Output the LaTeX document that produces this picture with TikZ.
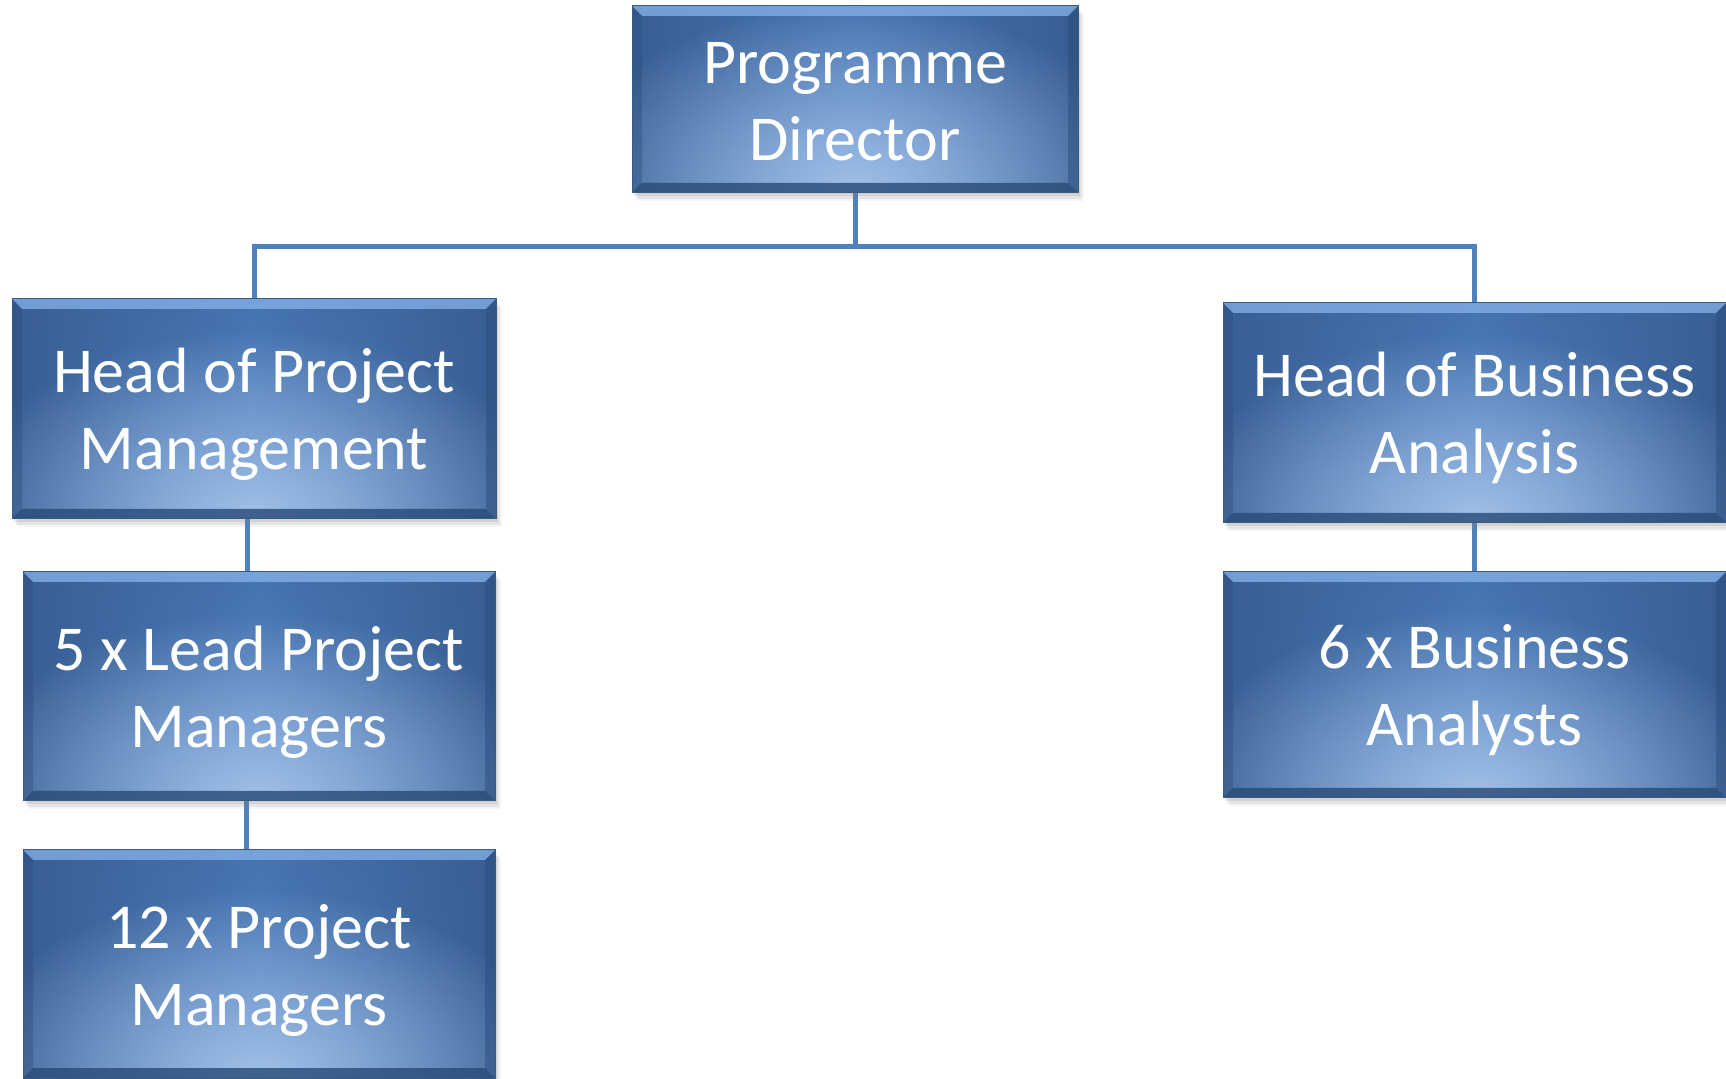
\documentclass[tikz,border=0pt]{standalone}
\usepackage{fontspec}
\setmainfont{Carlito}
\usetikzlibrary{shadows,fadings}
\definecolor{bdark}{HTML}{395F94}
\definecolor{bmid}{HTML}{4F82C2}
\definecolor{glowc}{HTML}{A2C0E8}
\definecolor{bevlight}{HTML}{86B3EA}
\definecolor{bevdark}{HTML}{284A78}
\definecolor{edgec}{HTML}{3A5A80}
\definecolor{connc}{HTML}{4F81BD}
\newcommand\twolines[2]{\rule{0pt}{28.5pt}#1\\#2\rule[-6pt]{0pt}{6pt}}
\tikzfading[name=glowfade, inner color=transparent!0, outer color=transparent!100]
\pgfdeclarelayer{bg}
\pgfsetlayers{bg,main}
\tikzset{
  box/.style={rectangle, inner sep=0pt, draw=edgec, line width=0.5pt, fill=bmid,
    text=white, align=center, font=\fontsize{32}{38.5}\selectfont,
    drop shadow={shadow xshift=1.2pt, shadow yshift=-1.6pt, opacity=0.18},
    drop shadow={shadow xshift=2.2pt, shadow yshift=-2.8pt, opacity=0.14},
    drop shadow={shadow xshift=3.2pt, shadow yshift=-4pt, opacity=0.08},
    path picture={
      \coordinate (sw) at (path picture bounding box.south west);
      \coordinate (ne) at (path picture bounding box.north east);
      \coordinate (nw) at (path picture bounding box.north west);
      \coordinate (se) at (path picture bounding box.south east);
      \shade[left color=bdark, right color=bdark, middle color=bmid] (sw) rectangle (ne);
      \fill[bdark, path fading=south, fill opacity=0.4] (sw) rectangle (ne);
      \fill[glowc, path fading=glowfade] (path picture bounding box.south) ellipse [x radius=150pt, y radius=95pt];
      \fill[bevlight, fill opacity=0.75] (nw) -- (ne) -- ([xshift=-5pt,yshift=-5pt]ne) -- ([xshift=5pt,yshift=-5pt]nw) -- cycle;
      \fill[bevdark, fill opacity=0.8] (sw) -- (se) -- ([xshift=-5pt,yshift=5pt]se) -- ([xshift=5pt,yshift=5pt]sw) -- cycle;
      \fill[bevdark, fill opacity=0.35] (sw) -- (nw) -- ([xshift=5pt,yshift=-5pt]nw) -- ([xshift=5pt,yshift=5pt]sw) -- cycle;
      \fill[bevdark, fill opacity=0.45] (se) -- (ne) -- ([xshift=-5pt,yshift=-5pt]ne) -- ([xshift=-5pt,yshift=5pt]se) -- cycle;
    }},
  conn/.style={line width=2.5pt, draw=connc}
}
\begin{document}
\begin{tikzpicture}[x=0.5pt,y=-0.5pt]
\useasboundingbox (0,0) rectangle (1726,1079);
\begin{pgfonlayer}{bg}
\fill[white] (0,0) rectangle (1726,1079);
\end{pgfonlayer}

\node[box, minimum width=223pt, minimum height=93.5pt] (pd) at (855,99.5) {\twolines{Programme}{Director}};
\node[box, minimum width=242pt, minimum height=110pt] (hpm) at (254,409) {\twolines{Head of Project}{Management}};
\node[box, minimum width=236pt, minimum height=114.5pt] (lpm) at (259,686.5) {\twolines{5 x Lead Project}{Managers}};
\node[box, minimum width=236pt, minimum height=114pt] (pm) at (259,964) {\twolines{12 x Project}{Managers}};
\node[box, minimum width=251.5pt, minimum height=110pt] (hba) at (1474.5,413) {\twolines{Head of Business}{Analysis}};
\node[box, minimum width=251.5pt, minimum height=113pt] (ba) at (1474.5,685) {\twolines{6 x Business}{Analysts}};

\coordinate (hub) at (855,247);
\coordinate (a1) at ([xshift=-3.5pt]hpm.south);
\coordinate (a2) at ([xshift=-6.5pt]lpm.south);
\begin{pgfonlayer}{bg}
\draw[conn] (pd.south) -- (hub);
\draw[conn] (hpm.north) |- (hub) -| (hba.north);
\draw[conn] (a1) -- (a1 |- lpm.north);
\draw[conn] (a2) -- (a2 |- pm.north);
\draw[conn] (hba.south) -- (ba.north);
\end{pgfonlayer}
\end{tikzpicture}
\end{document}
